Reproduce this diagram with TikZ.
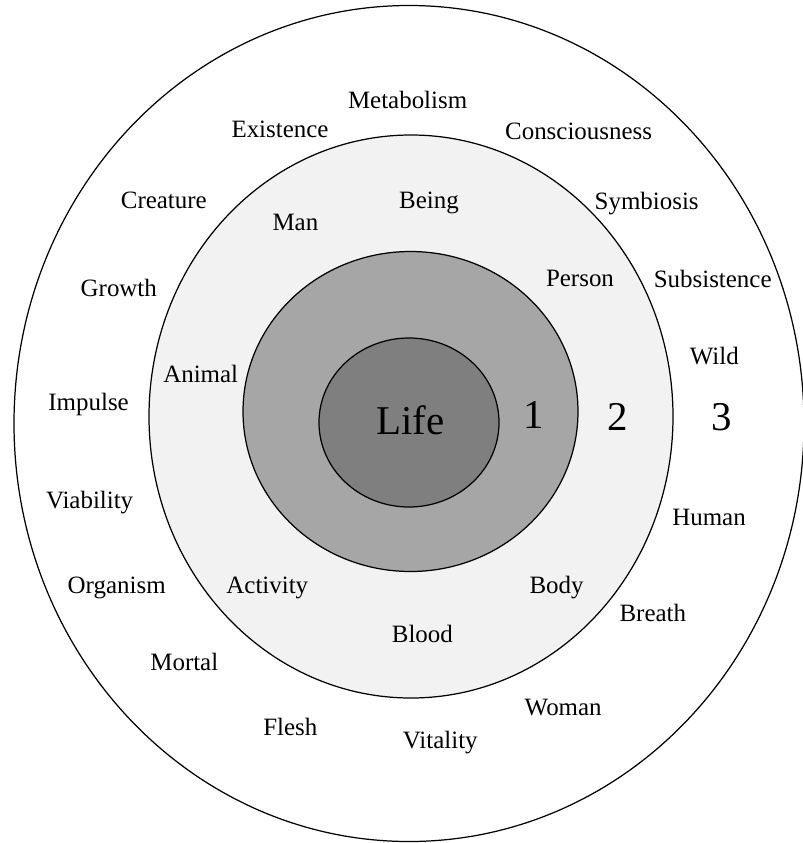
\documentclass[tikz,border=0pt]{standalone}
\usepackage{fontspec}
\setmainfont{Liberation Serif}
\usepackage{tikz}

\definecolor{ringlight}{HTML}{F2F2F2}
\definecolor{ringmid}{HTML}{A6A6A6}
\definecolor{ringdark}{HTML}{7F7F7F}

\begin{document}
\begin{tikzpicture}[
  x=0.02cm, y=-0.02cm,
  ring/.style={
    draw=black,
    line width=0.7pt
  },
  word/.style={
    anchor=base,
    inner sep=0pt,
    font=\fontsize{14.2}{17}\selectfont
  },
  level/.style={
    anchor=base,
    inner sep=0pt,
    font=\fontsize{23.3}{28}\selectfont
  }
]
  \useasboundingbox (0,0) rectangle (803,843);

  % rings, outside in
  \filldraw[ring, fill=white] (409,423.5) ellipse [x radius=395, y radius=418];
  \filldraw[ring, fill=ringlight] (411,416.5) ellipse [x radius=262, y radius=281.5];
  \filldraw[ring, fill=ringmid] (410.5,411.5) ellipse [x radius=167.5, y radius=160];
  \filldraw[ring, fill=ringdark] (409,422.5) ellipse [x radius=90, y radius=84.5];

  % ring numbers
  \node[level] (life) at (410.6,434) {Life};
  \node[level] (one) at (533.5,428.5) {1};
  \node[level] (two) at (618,430) {2};
  \node[level] (three) at (722,430) {3};

  % ring 2
  \node[word] (being) at (429,208.5) {Being};
  \node[word] (man) at (295.4,230) {Man};
  \node[word] (person) at (580,286) {Person};
  \node[word] (animal) at (200.7,382.7) {Animal};
  \node[word] (activity) at (267.3,593) {Activity};
  \node[word] (body) at (556.6,593) {Body};
  \node[word] (blood) at (422.4,642.4) {Blood};

  % ring 3
  \node[word] (metabolism) at (407.6,108.5) {Metabolism};
  \node[word] (existence) at (280,137) {Existence};
  \node[word] (consciousness) at (578.6,139.7) {Consciousness};
  \node[word] (creature) at (163.8,208) {Creature};
  \node[word] (symbiosis) at (646.7,209.6) {Symbiosis};
  \node[word] (growth) at (118.8,296.7) {Growth};
  \node[word] (subsistence) at (712.7,287.6) {Subsistence};
  \node[word] (wild) at (714.3,364) {Wild};
  \node[word] (impulse) at (88.6,410) {Impulse};
  \node[word] (viability) at (89.6,508) {Viability};
  \node[word] (human) at (709,525) {Human};
  \node[word] (organism) at (116.7,593) {Organism};
  \node[word] (breath) at (652.8,621) {Breath};
  \node[word] (mortal) at (184.3,670) {Mortal};
  \node[word] (woman) at (563.2,715) {Woman};
  \node[word] (flesh) at (290.3,735) {Flesh};
  \node[word] (vitality) at (440.3,748) {Vitality};
\end{tikzpicture}
\end{document}
